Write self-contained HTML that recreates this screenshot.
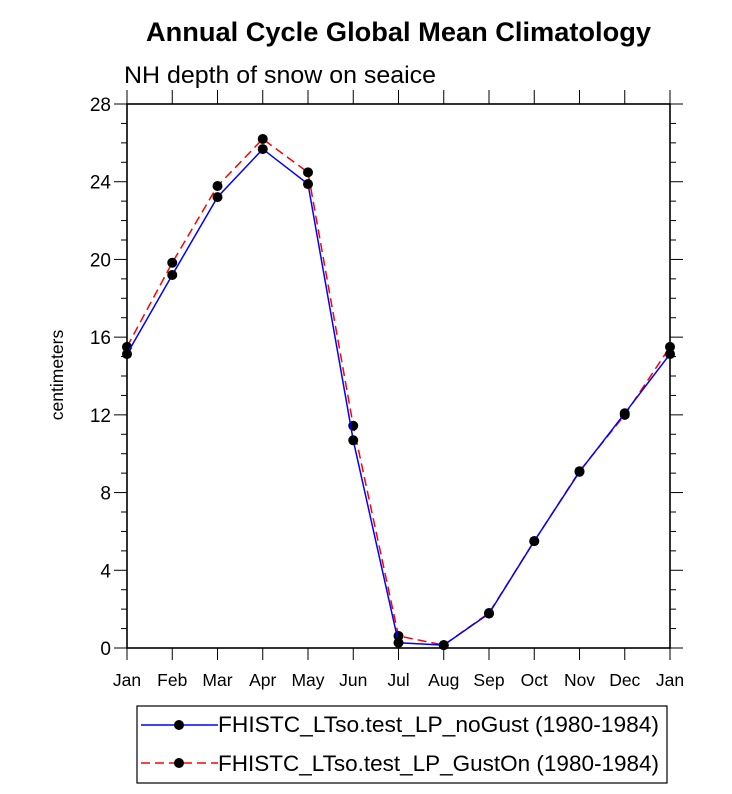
<!DOCTYPE html>
<html><head><meta charset="utf-8"><style>
body{margin:0;background:#fff;font-family:"Liberation Sans",sans-serif}
</style></head><body>
<svg id="chart" width="732" height="789" xmlns="http://www.w3.org/2000/svg">
<text x="146" y="41" font-size="27" font-weight="bold" textLength="505" lengthAdjust="spacingAndGlyphs">Annual Cycle Global Mean Climatology</text>
<text x="124" y="83" font-size="24" textLength="312" lengthAdjust="spacingAndGlyphs">NH depth of snow on seaice</text>
<text transform="translate(63,375) rotate(-90)" text-anchor="middle" font-size="17.5">centimeters</text>
<g id="axes"></g>
<g id="series"></g>
<g>
<rect x="137" y="706" width="530" height="77" fill="#fff" stroke="#000" stroke-width="1.2"/>
<g>
<line x1="141" y1="725" x2="218" y2="725" stroke="#0000ff" stroke-width="1.5"/>
<circle cx="179" cy="725" r="5" fill="#000"/>
<text x="218" y="732" font-size="22" textLength="441" lengthAdjust="spacingAndGlyphs">FHISTC_LTso.test_LP_noGust (1980-1984)</text></g>
<g>
<line x1="141" y1="763" x2="218" y2="763" stroke="#ff0000" stroke-width="1.5" stroke-dasharray="9,5"/>
<circle cx="179" cy="763" r="5" fill="#000"/>
<text x="218" y="771" font-size="22" textLength="441" lengthAdjust="spacingAndGlyphs">FHISTC_LTso.test_LP_GustOn (1980-1984)</text></g>
</g>
</svg>
<script>
const months=["Jan","Feb","Mar","Apr","May","Jun","Jul","Aug","Sep","Oct","Nov","Dec","Jan"];
const noGust=[15.13,19.2,23.21,25.68,23.88,10.69,0.27,0.15,1.77,5.5,9.07,12.08,15.13];
const gustOn=[15.5,19.83,23.78,26.2,24.48,11.44,0.62,0.15,1.8,5.5,9.1,12.0,15.5];
const yTicks=[0,4,8,12,16,20,24,28];
const NS="http://www.w3.org/2000/svg";
const L=127,R=670,T=104,B=648,yMax=28;
const xs=i=>L+(R-L)*i/(months.length-1);
const ys=v=>B-(B-T)*v/yMax;
function mk(tag,attrs,parent){const e=document.createElementNS(NS,tag);for(const k in attrs)e.setAttribute(k,attrs[k]);parent.appendChild(e);return e;}
const ax=document.getElementById('axes');
const frame=mk('rect',{x:L,y:T,width:R-L,height:B-T,fill:'none',stroke:'#000','stroke-width':1.6},ax);


for(let v=0;v<=yMax;v+=1){const y=ys(v);const major=v%4===0;const len=major?13:6;
 mk('line',{x1:L,y1:y,x2:L-len,y2:y,stroke:'#000','stroke-width':1},ax);
 mk('line',{x1:R,y1:y,x2:R+len,y2:y,stroke:'#000','stroke-width':1},ax);}
yTicks.forEach(v=>{const t=mk('text',{x:L-16,y:ys(v)+7,'text-anchor':'end','font-size':19},ax);t.textContent=v;
 
 });
months.forEach((m,i)=>{const x=xs(i);
 mk('line',{x1:x,y1:B,x2:x,y2:B+12,stroke:'#000','stroke-width':1},ax);
 mk('line',{x1:x,y1:T,x2:x,y2:T-14,stroke:'#000','stroke-width':1},ax);
 const t=mk('text',{x:x,y:B+38,'text-anchor':'middle','font-size':17.5},ax);t.textContent=m;
 
 });
const sg=document.getElementById('series');
function draw(vals,color,dash,name){
 const g=mk('g',{},sg);
 
 
 const pl=mk('polyline',{points:vals.map((v,i)=>xs(i)+','+ys(v)).join(' '),fill:'none',stroke:color,'stroke-width':1.5,'stroke-dasharray':dash},g);
 
 
 vals.forEach((v,i)=>{const c=mk('circle',{cx:xs(i),cy:ys(v),r:5,fill:'#000'},g);
  
  });
}
draw(gustOn,'#ff0000','9,5','series-guston');
draw(noGust,'#0000ff','none','series-nogust');
</script>
</body></html>
